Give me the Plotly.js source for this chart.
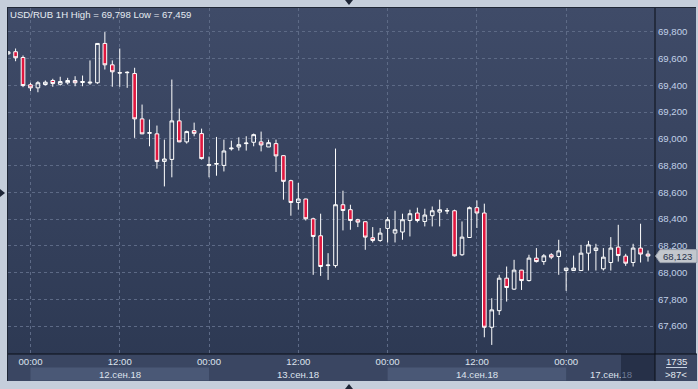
<!DOCTYPE html>
<html><head><meta charset="utf-8">
<script src="https://cdn.plot.ly/plotly-3.0.1.min.js"></script>
<style>
html,body{margin:0;padding:0;background:#c5cedb;width:698px;height:389px;overflow:hidden;}
#frame{position:absolute;left:7px;top:7px;width:689px;height:374px;box-sizing:border-box;border-left:1px solid #1f2736;border-top:1px solid #1f2736;background:linear-gradient(to bottom,#3f4b68 0%,#2c3852 100%);}
#chart{position:absolute;left:0;top:0;width:698px;height:389px;}
</style></head><body>
<div id="frame"></div><div id="chart"></div>
<script>
// ---- data ----
const hourIndex = [-3,-2,-1,0,1,2,3,4,5,6,7,8,9,10,11,12,13,14,15,16,17,18,19,20,21,22,23,
  24,25,26,27,28,29,30,31,32,33,34,35,36,37,38,39,40,41,42,43,44,45,46,47,
  48,49,50,51,52,53,54,55,56,57,58,59,60,61,62,63,64,65,66,67,68,69,70,71,
  72,73,74,75,76,77,78,79,80,81,82,83];
const open = [69635,69651,69608,69404,69381,69406,69436,69408,69419,69436,69421,69417,69419,69713,69553,69495,69494,69488,69149,69041,69037,68831,68846,69134,68977,69061,69039,
  68801,68810,68801,68925,68939,68964,68974,68977,68939,68964,68874,68687,68524,68550,68402,68275,68052,68052,68507,68470,68395,68380,68260,68240,
  68330,68295,68303,68389,68445,68382,68425,68452,68460,68462,68133,68262,68485,68445,67591,67715,67958,67876,68018,67940,68108,68082,68133,68120,
  68015,68015,68015,68145,68165,68028,68075,68190,68123,68075,68183,68138];
const high = [69655,69675,69623,69419,69431,69436,69449,69464,69456,69468,69473,69586,69713,69798,69586,69675,69505,69531,69256,69144,69099,68994,69443,69226,69061,69121,69076,
  68867,69014,68994,68986,69011,69019,69039,69054,68994,68994,68876,68694,68670,68552,68410,68440,68145,68927,68612,68507,68402,68382,68340,68333,
  68415,68462,68440,68470,68485,68477,68494,68545,68482,68470,68382,68494,68539,68515,67808,67983,68045,68095,68020,68133,68183,68138,68145,68245,
  68033,68127,68207,68237,68215,68183,68265,68357,68140,68215,68365,68165];
const low = [69630,69580,69386,69356,69348,69398,69389,69398,69406,69393,69393,69404,69411,69518,69389,69389,69381,69007,69035,68944,68777,68644,68712,68975,68964,69019,68844,
  68712,68724,68756,68912,68912,68912,68944,68906,68939,68752,68545,68425,68470,68389,67983,67975,67945,68037,68315,68320,68340,68170,68225,68230,
  68225,68225,68245,68270,68375,68345,68345,68345,68437,68120,68125,68262,68333,67516,67459,67683,67783,67870,67870,67933,68075,68058,68100,67983,
  67863,68015,68015,68015,68015,68015,68015,68082,68050,68045,68075,68082];
const close = [69650,69606,69398,69381,69419,69423,69413,69428,69436,69419,69428,69423,69713,69553,69501,69492,69497,69149,69037,69046,68831,68849,69134,68977,69054,69041,68852,
  68806,68815,68909,68930,68956,68968,69031,68954,68971,68872,68682,68524,68550,68402,68270,68045,68056,68507,68464,68389,68377,68265,68240,68295,
  68395,68320,68395,68440,68389,68430,68462,68470,68463,68125,68265,68485,68445,67591,67721,67958,67888,68018,67940,68108,68082,68125,68115,68162,
  68033,68033,68145,68207,68183,68115,68183,68127,68070,68183,68138,68123];
const tickHours = [0,12,24,36,48,60,72];
const tickLabels = ['00:00','12:00','00:00','12:00','00:00','12:00','00:00'];
const dayStart = [0,24,48,72];
const dayEnd = [24,48,72,96];
const dayLabels = ['12.сен.18','13.сен.18','14.сен.18','17.сен.<span style="color:#6d7a96">18</span>'];
const yTicks = [67600,67800,68000,68200,68400,68600,68800,69000,69200,69400,69600,69800];
const lastPrice = 68123;
const titleText = 'USD/RUB 1H High = 69,798 Low = 67,459';
const barsInfo = ['1735','&gt;87&lt;'];

// ---- geometry ----
const L=8, R=655, T=8, B=354;
const FS = 9.6;
const xRange = [-3.02, 83.94];
const yRange = [67391, 69978];
const px = x => (x-L)/(R-L);
const py = y => (B-y)/(B-T);
const unitsPerPx = (yRange[1]-yRange[0])/(B-T);

const shapes = [];
shapes.push({type:'rect',xref:'paper',yref:'paper',x0:px(8),x1:px(697),y0:py(354),y1:py(381),fillcolor:'#3a4662',line:{width:0},layer:'below'});
dayStart.forEach((s,i)=>{
  if(i%2===0) shapes.push({type:'rect',xref:'x',yref:'paper',x0:s,x1:dayEnd[i],y0:py(367.5),y1:py(380.5),fillcolor:'#4a5876',line:{width:0},layer:'below'});
});
shapes.push({type:'rect',xref:'paper',yref:'paper',x0:px(621),x1:px(655),y0:py(354),y1:py(380.5),fillcolor:'#263048',line:{width:0},layer:'below'});
shapes.push({type:'line',xref:'paper',yref:'paper',x0:1,x1:1,y0:py(381),y1:1,line:{color:'#0a0e16',width:1}});
shapes.push({type:'line',xref:'paper',yref:'paper',x0:0,x1:px(697),y0:0,y1:0,line:{color:'#0a0e16',width:1}});
shapes.push({type:'line',xref:'paper',yref:'paper',x0:px(666),x1:px(687),y0:py(367.5),y1:py(367.5),line:{color:'#c9d3e2',width:1}});
const h = 6.5*unitsPerPx;
shapes.push({type:'path',xref:'paper',yref:'y',
  path:`M ${px(655.5)},${lastPrice} L ${px(660)},${lastPrice+h} L ${px(697)},${lastPrice+h} L ${px(697)},${lastPrice-h} L ${px(660)},${lastPrice-h} Z`,
  fillcolor:'#c3c7cd',line:{color:'#9aa2ad',width:1}});
function tri(a,b,c){return {type:'path',xref:'paper',yref:'paper',path:`M ${px(a[0])},${py(a[1])} L ${px(b[0])},${py(b[1])} L ${px(c[0])},${py(c[1])} Z`,fillcolor:'#1d2536',line:{width:0}};}
shapes.push(tri([345,0],[353,0],[349,5]));
shapes.push(tri([345,389],[353,389],[349,384]));
shapes.push(tri([0,189],[0,197],[5,193]));

const annotations = [];
dayStart.forEach((s,i)=>{
  const a = Math.max(s,xRange[0]), b = Math.min(dayEnd[i],xRange[1]);
  annotations.push({xref:'x',yref:'paper',x:(a+b)/2,y:py(374),text:dayLabels[i],showarrow:false,xanchor:'center',yanchor:'middle',font:{size:FS,color:'#dde3ed'}});
});
annotations.push({xref:'paper',yref:'y',x:px(660.5),y:lastPrice,text:lastPrice.toLocaleString('en-US'),showarrow:false,xanchor:'left',yanchor:'middle',font:{size:FS,color:'#27324a'}});
annotations.push({xref:'paper',yref:'paper',x:px(676.5),y:py(361.5),text:barsInfo[0],showarrow:false,xanchor:'center',yanchor:'middle',font:{size:FS,color:'#e4e9f1'}});
annotations.push({xref:'paper',yref:'paper',x:px(676.5),y:py(374),text:barsInfo[1],showarrow:false,xanchor:'center',yanchor:'middle',font:{size:FS,color:'#e4e9f1'}});

const trace = {
  type:'candlestick', x:hourIndex, open:open, high:high, low:low, close:close,
  increasing:{line:{color:'#ffffff',width:1},fillcolor:'rgba(0,0,0,0)'},
  decreasing:{line:{color:'#ffffff',width:1},fillcolor:'#e0173f'},
  whiskerwidth:0, hoverinfo:'skip'
};

const layout = {
  width:698, height:389,
  margin:{l:L, r:698-R, t:T, b:389-B, pad:0},
  paper_bgcolor:'rgba(0,0,0,0)', plot_bgcolor:'rgba(0,0,0,0)',
  showlegend:false,
  font:{family:'Liberation Sans, Arial, sans-serif', size:FS, color:'#dfe5ee'},
  title:{text:titleText, xref:'paper', x:px(10), xanchor:'left', yref:'paper', y:py(15), yanchor:'middle', font:{size:FS,color:'#e6ebf2'}, pad:{t:0,b:0,l:0,r:0}},
  xaxis:{range:xRange, tickmode:'array', tickvals:tickHours, ticktext:tickLabels,
    showgrid:true, gridcolor:'#5d6a86', gridwidth:1, griddash:'3px,3px', zeroline:false, showline:false,
    ticks:'', tickfont:{size:FS,color:'#dde3ed'}, rangeslider:{visible:false}, fixedrange:true},
  yaxis:{side:'right', range:yRange, tickmode:'array', tickvals:yTicks, tickformat:',d',
    showgrid:true, gridcolor:'#5d6a86', gridwidth:1, griddash:'3px,3px', zeroline:false, showline:false,
    ticks:'', ticklabelstandoff:2, tickfont:{size:FS,color:'#c2d1e8'}, fixedrange:true},
  shapes:shapes, annotations:annotations
};
Plotly.newPlot('chart',[trace],layout,{displayModeBar:false,staticPlot:true});
</script>
</body></html>
